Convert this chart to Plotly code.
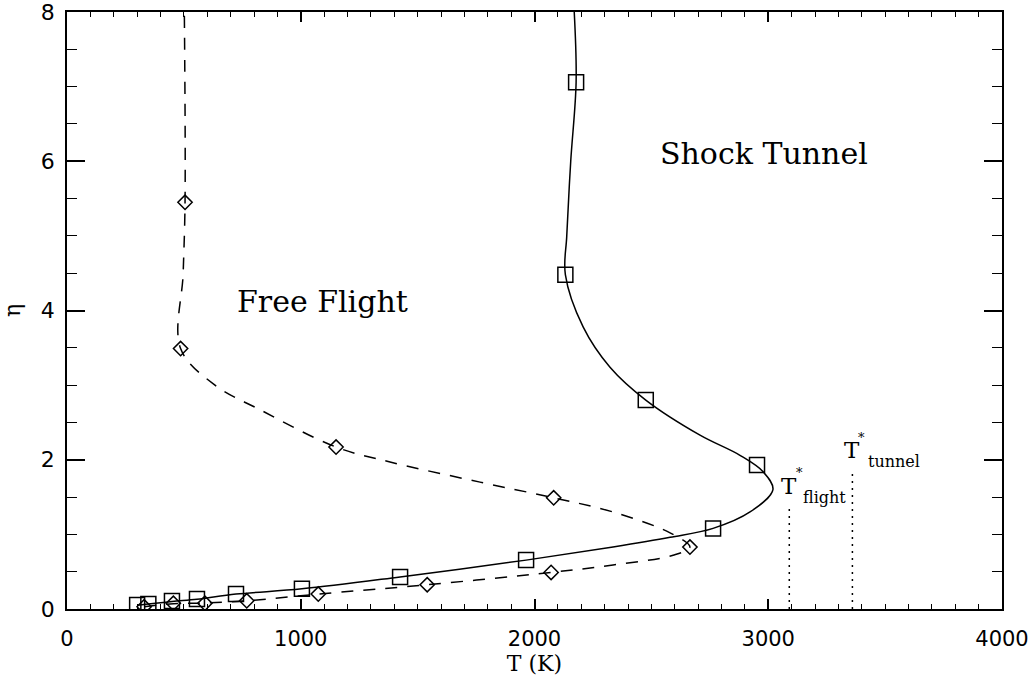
import plotly.graph_objects as go

# Shock tunnel: computed points (squares) and the fitted curve through them
tunnel_T = [300, 348, 449, 556, 723, 1005, 1425, 1964, 2764, 2952, 2476, 2132, 2178]
tunnel_eta = [0.054, 0.067, 0.107, 0.134, 0.20, 0.27, 0.43, 0.655, 1.08, 1.93, 2.80, 4.48, 7.06]

tunnel_curve_T = [300, 449, 556, 723, 1005, 1425, 1964, 2336, 2580, 2764, 2922,
                  3020, 2978, 2879, 2708, 2476, 2323, 2208, 2132, 2138, 2155, 2178, 2170]
tunnel_curve_eta = [0.05, 0.10, 0.13, 0.20, 0.27, 0.43, 0.655, 0.83, 0.96, 1.08, 1.30,
                    1.60, 1.84, 2.06, 2.33, 2.80, 3.24, 3.78, 4.48, 5.0, 6.0, 7.06, 8.0]

# Free flight: computed points (diamonds) and the fitted curve through them
flight_T = [330, 455, 590, 769, 1075, 1541, 2071, 2665, 2082, 1151, 486, 505]
flight_eta = [0.03, 0.076, 0.076, 0.11, 0.20, 0.325, 0.49, 0.83, 1.49, 2.17, 3.49, 5.45]

flight_curve_T = [330, 455, 590, 769, 1075, 1541, 2071, 2336, 2593, 2665, 2580,
                  2336, 2082, 1767, 1382, 1151, 826, 633, 486, 497, 505, 502]
flight_curve_eta = [0.03, 0.07, 0.08, 0.11, 0.20, 0.325, 0.49, 0.59, 0.72, 0.83, 1.02,
                    1.30, 1.49, 1.70, 1.97, 2.17, 2.67, 3.0, 3.49, 4.5, 5.45, 8.0]

# Characteristic temperatures
t_star_flight = 3090
t_star_flight_top = 1.36
t_star_tunnel = 3360
t_star_tunnel_top = 1.86

fig = go.Figure()

fig.add_trace(go.Scatter(
    x=tunnel_curve_T, y=tunnel_curve_eta, mode="lines",
    line=dict(color="black", width=1.5, shape="spline", smoothing=1.0),
    showlegend=False, hoverinfo="skip"))
fig.add_trace(go.Scatter(
    x=flight_curve_T, y=flight_curve_eta, mode="lines",
    line=dict(color="black", width=1.5, dash="12px,10px", shape="spline", smoothing=1.0),
    showlegend=False, hoverinfo="skip"))

fig.add_trace(go.Scatter(
    x=tunnel_T, y=tunnel_eta, mode="markers",
    marker=dict(symbol="square-open", size=15, color="black", line=dict(width=1.5)),
    showlegend=False))
fig.add_trace(go.Scatter(
    x=flight_T, y=flight_eta, mode="markers",
    marker=dict(symbol="diamond-open", size=11, color="black", line=dict(width=1.5)),
    showlegend=False))

# Dotted markers for T*
for tx, top in [(t_star_flight, t_star_flight_top), (t_star_tunnel, t_star_tunnel_top)]:
    fig.add_trace(go.Scatter(
        x=[tx, tx], y=[0, top], mode="lines",
        line=dict(color="black", width=1.5, dash="2px,5px"),
        showlegend=False, hoverinfo="skip"))

serif = "DejaVu Serif"
ann = [
    dict(x=1091, y=4.12, text="Free Flight", font=dict(size=30, family=serif, color="black")),
    dict(x=2982, y=6.10, text="Shock Tunnel", font=dict(size=30, family=serif, color="black")),
    dict(x=3090, y=1.65, text="T", font=dict(size=23, family=serif, color="black")),
    dict(x=3135, y=1.83, text="*", font=dict(size=13, family=serif, color="black")),
    dict(x=3240, y=1.50, text="flight", font=dict(size=16, family=serif, color="black")),
    dict(x=3360, y=2.13, text="T", font=dict(size=23, family=serif, color="black")),
    dict(x=3400, y=2.30, text="*", font=dict(size=13, family=serif, color="black")),
    dict(x=3540, y=1.97, text="tunnel", font=dict(size=16, family=serif, color="black")),
]
for a in ann:
    fig.add_annotation(xref="x", yref="y", showarrow=False,
                       xanchor="center", yanchor="middle", **a)

fig.update_xaxes(
    range=[0, 4000], dtick=1000, tick0=0, automargin=False,
    showline=True, linecolor="black", linewidth=1.5, mirror="ticks",
    ticks="inside", ticklen=10, tickwidth=1.5, tickcolor="black",
    minor=dict(dtick=100, ticks="inside", ticklen=5, tickwidth=1, tickcolor="black"),
    showgrid=False, zeroline=False, ticklabeloverflow="allow",
    tickfont=dict(family="DejaVu Sans", size=21, color="black"),
    ticklabelstandoff=10,
    title=dict(text="T (K)", font=dict(family=serif, size=22, color="black"), standoff=4),
)
fig.update_yaxes(
    range=[0, 8], dtick=2, tick0=0, automargin=False,
    showline=True, linecolor="black", linewidth=1.5, mirror="ticks",
    ticks="inside", ticklen=18, tickwidth=1.5, tickcolor="black",
    minor=dict(dtick=0.5, ticks="inside", ticklen=10, tickwidth=1, tickcolor="black"),
    showgrid=False, zeroline=False, ticklabeloverflow="allow",
    tickfont=dict(family="DejaVu Sans", size=22, color="black"),
    ticklabelstandoff=6,
    title=dict(text="η", font=dict(family=serif, size=22, color="black"), standoff=14),
)

fig.update_layout(
    width=1032, height=679,
    margin=dict(l=67, r=30, t=12, b=70),
    plot_bgcolor="white", paper_bgcolor="white",
)

fig.write_html("out.html")
